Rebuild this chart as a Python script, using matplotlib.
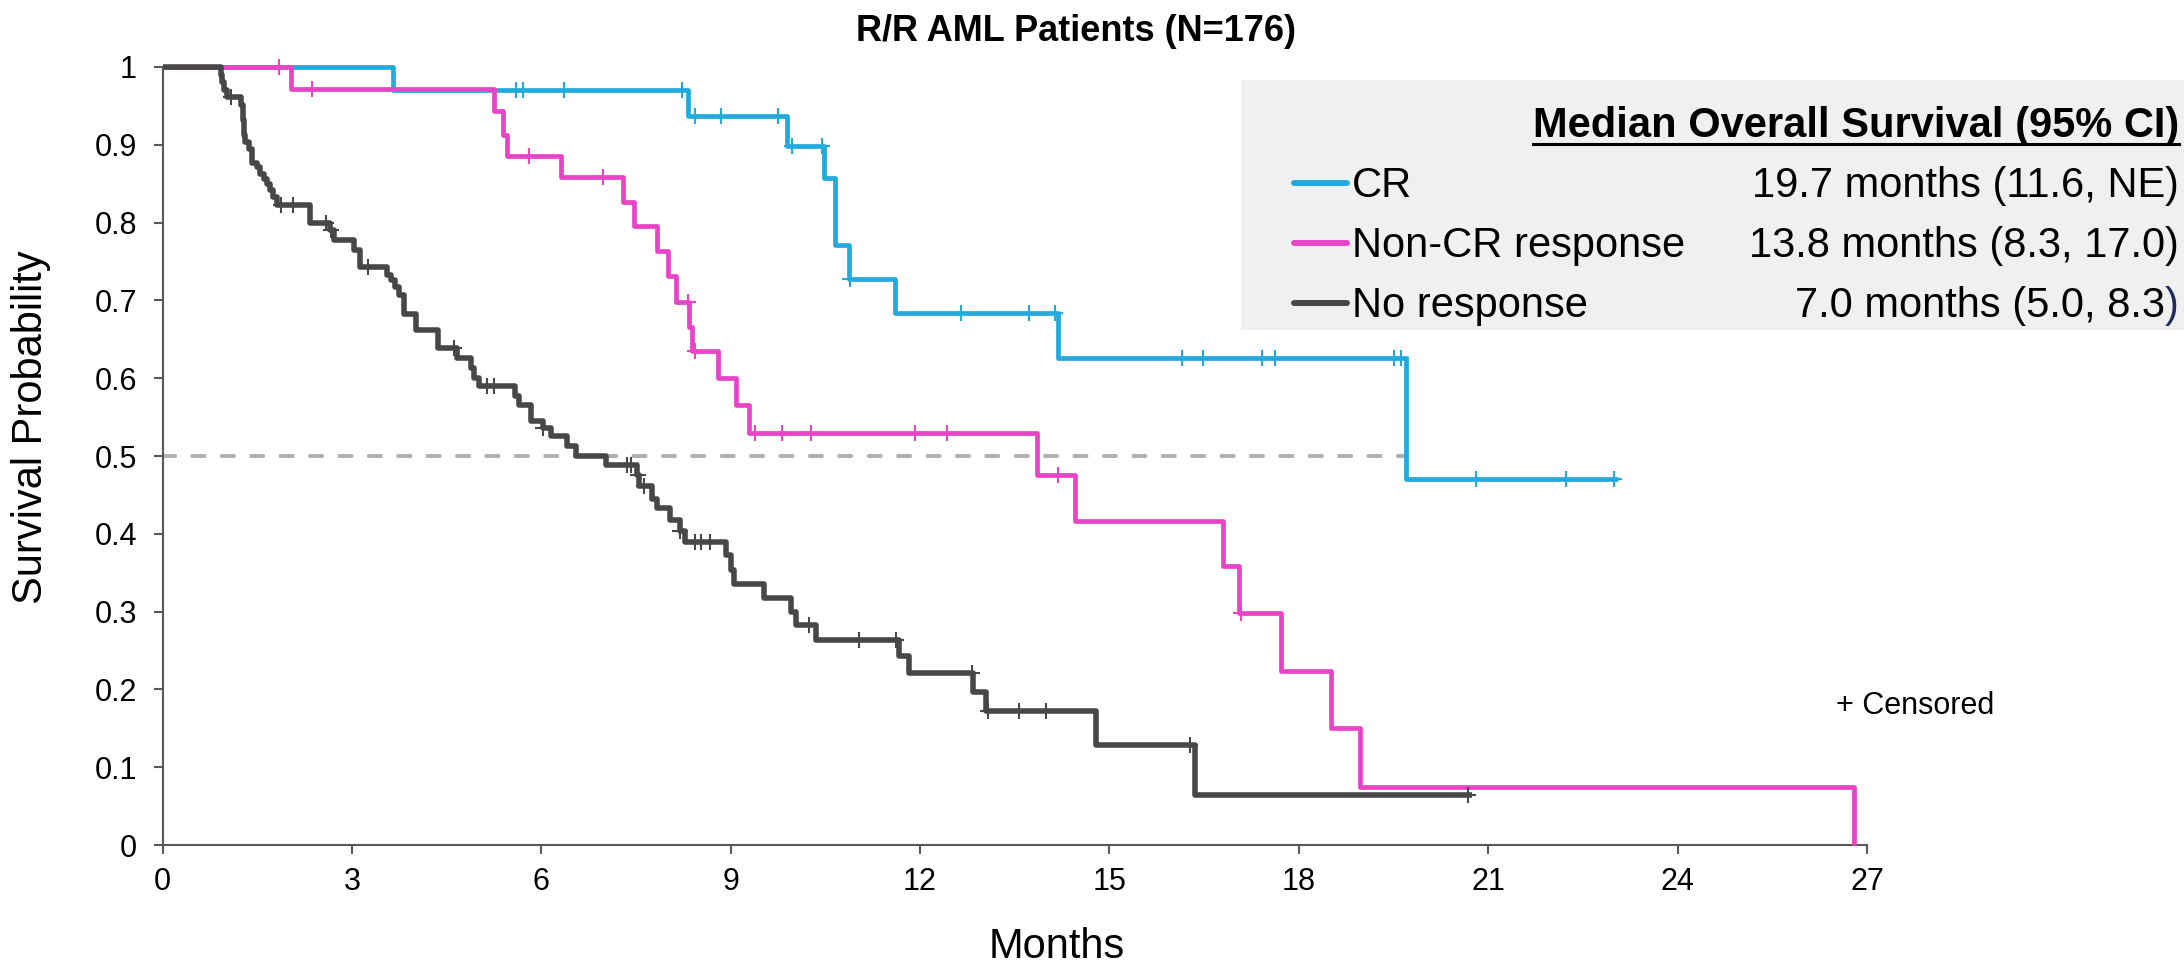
import numpy as np
import matplotlib
matplotlib.use("Agg")
from matplotlib import pyplot as plt
from matplotlib.lines import Line2D
from matplotlib.patches import Rectangle

# Kaplan-Meier steps: month of each drop and survival after it
cr_times = [0, 3.65, 8.32, 9.90, 10.48, 10.66, 10.87, 11.61, 14.19, 19.69]
cr_surv = [1.0, 0.971, 0.937, 0.898, 0.857, 0.771, 0.728, 0.684, 0.626, 0.470]
cr_end = 23.05
cr_censored = [5.60, 5.71, 6.36, 8.23, 8.43, 8.84, 9.75, 9.97, 10.45, 10.89, 12.65,
               13.73, 14.13, 16.15, 16.48, 17.42, 17.62, 19.50, 19.62, 20.81, 22.23, 23.0]

noncr_times = [0, 2.03, 5.25, 5.39, 5.45, 6.32, 7.30, 7.47, 7.83, 8.00, 8.14, 8.34,
               8.38, 8.80, 9.09, 9.29, 13.86, 14.45, 16.80, 17.06, 17.72, 18.51, 18.97, 26.79]
noncr_surv = [1.0, 0.972, 0.943, 0.913, 0.886, 0.858, 0.826, 0.795, 0.763, 0.731, 0.698, 0.666,
              0.635, 0.600, 0.565, 0.529, 0.476, 0.417, 0.358, 0.298, 0.224, 0.150, 0.075, 0.0]
noncr_end = 26.79
noncr_censored = [1.85, 2.37, 5.80, 6.97, 8.32, 8.43, 9.38, 9.81, 10.27, 11.92, 12.42, 14.19, 17.08]

nr_times = [0, 0.93, 0.95, 0.98, 1.02, 1.25, 1.27, 1.29, 1.31, 1.37, 1.42, 1.50, 1.54, 1.61,
            1.65, 1.71, 1.75, 1.82, 2.33, 2.65, 2.72, 3.04, 3.13, 3.55, 3.62, 3.68, 3.75,
            3.83, 4.02, 4.36, 4.67, 4.88, 4.94, 5.01, 5.59, 5.64, 5.83, 6.02, 6.15, 6.40,
            6.55, 7.03, 7.51, 7.55, 7.76, 7.83, 8.04, 8.20, 8.27, 8.92, 9.00, 9.05, 9.53,
            9.95, 10.04, 10.35, 11.67, 11.82, 12.84, 13.05, 14.78, 16.36]
nr_surv = [1.0, 0.990, 0.981, 0.971, 0.962, 0.951, 0.932, 0.913, 0.904, 0.894, 0.876, 0.871,
           0.862, 0.856, 0.850, 0.842, 0.833, 0.823, 0.800, 0.790, 0.778, 0.765, 0.743, 0.733,
           0.726, 0.717, 0.707, 0.683, 0.662, 0.639, 0.626, 0.613, 0.600, 0.590, 0.577, 0.565,
           0.545, 0.536, 0.526, 0.513, 0.500, 0.488, 0.476, 0.461, 0.445, 0.433, 0.418, 0.404,
           0.389, 0.373, 0.354, 0.336, 0.318, 0.300, 0.283, 0.264, 0.243, 0.221, 0.197, 0.172,
           0.129, 0.064]
nr_end = 20.74
nr_censored = [1.08, 1.87, 2.07, 2.59, 2.67, 3.25, 4.61, 5.14, 5.25, 6.02, 7.35, 7.42, 7.54,
               7.62, 8.20, 8.43, 8.53, 8.68, 10.24, 11.04, 11.62, 12.82, 13.07, 13.56, 13.99,
               16.28, 20.68]

groups = ["CR", "Non-CR response", "No response"]
medians = [19.7, 13.8, 7.0]
ci_low = [11.6, 8.3, 5.0]
ci_high = ["NE", "17.0", "8.3"]

x_ticks = [0, 3, 6, 9, 12, 15, 18, 21, 24, 27]
y_ticks = [0, 0.1, 0.2, 0.3, 0.4, 0.5, 0.6, 0.7, 0.8, 0.9, 1]

colors = ["#22aadd", "#e944c8", "#474747"]
paren_colors = ["black", "black", "#1f2b5e"]

W, H = 2184, 963
plt.rcParams["font.family"] = ["Liberation Sans", "DejaVu Sans"]


def fx(px):
    return px / W


def fy(py):
    # pixel row measured from the top
    return 1 - py / H


def step_at(times, surv, t):
    idx = np.searchsorted(times, t, side="right") - 1
    return np.asarray(surv)[idx]


fig = plt.figure(figsize=(W / 100, H / 100), dpi=100)
ax = fig.add_axes([fx(162.5), fy(845), fx(1867) - fx(162.5), fy(67) - fy(845)])
ax.patch.set_visible(False)

# median reference line, out to where the CR curve crosses 0.5
ax.plot([0, medians[0]], [0.5, 0.5], color="#b0b0b0", lw=2.9, dashes=(3, 4.3),
        dash_capstyle="round", zorder=2)

series = [
    (cr_times, cr_surv, cr_end, cr_censored, 3.4),
    (noncr_times, noncr_surv, noncr_end, noncr_censored, 3.4),
    (nr_times, nr_surv, nr_end, nr_censored, 4.0),
]
for i, (times, surv, end, cens, lw) in enumerate(series):
    xs = list(times) + [end]
    ys = list(surv) + [surv[-1]]
    ax.step(xs, ys, where="post", color=colors[i], lw=lw, clip_on=False, zorder=3 + i,
            solid_joinstyle="round", solid_capstyle="butt")
    ax.plot(cens, step_at(times, surv, cens), ls="none", marker="+", ms=11.5, mew=1.5,
            color=colors[i], clip_on=False, zorder=3 + i)

ax.set_xlim(0, 27)
ax.set_ylim(0, 1)
ax.set_xticks(x_ticks)
ax.set_yticks(y_ticks)
ax.set_yticklabels([f"{v:g}" for v in y_ticks])
for side in ["top", "right"]:
    ax.spines[side].set_visible(False)
for side in ["left", "bottom"]:
    ax.spines[side].set_color("#595959")
    ax.spines[side].set_linewidth(1.5)
ax.tick_params(axis="both", direction="out", length=6.5, width=1.5, color="#595959",
               labelsize=22, labelcolor="black")
ax.tick_params(axis="x", pad=9)
ax.tick_params(axis="y", pad=12)

fig.text(fx(1076), fy(41), "R/R AML Patients (N=176)", ha="center", va="baseline",
         fontsize=26, fontweight="bold")
fig.text(fx(1057), fy(958), "Months", ha="center", va="baseline", fontsize=30)
fig.text(fx(31), fy(427), "Survival Probability", ha="center", va="center",
         rotation=90, fontsize=30)
fig.text(fx(1836), fy(714), "+ Censored", ha="left", va="baseline", fontsize=22)

# legend panel with medians
fig.add_artist(Rectangle((fx(1241), fy(330)), fx(W) - fx(1241), fy(80) - fy(330),
                         transform=fig.transFigure, facecolor="#f0f0f0",
                         edgecolor="none", zorder=1))
right = 2179
header = fig.text(fx(right), fy(137), "Median Overall Survival (95% CI)", ha="right",
                  va="baseline", fontsize=30, fontweight="bold", zorder=2)

fig.canvas.draw()
renderer = fig.canvas.get_renderer()
hb = header.get_window_extent(renderer)
fig.add_artist(Line2D([hb.x0 / W, hb.x1 / W], [fy(144), fy(144)],
                      transform=fig.transFigure, color="black", lw=2.2, zorder=2))

baselines = [197, 257, 317]
for i, name in enumerate(groups):
    yb = baselines[i]
    fig.add_artist(Line2D([fx(1294), fx(1347)], [fy(yb - 14), fy(yb - 14)],
                          transform=fig.transFigure, color=colors[i], lw=4.3,
                          solid_capstyle="round", zorder=2))
    fig.text(fx(1352), fy(yb), name, ha="left", va="baseline", fontsize=30, zorder=2)
    paren = fig.text(fx(right), fy(yb), ")", ha="right", va="baseline", fontsize=30,
                     color=paren_colors[i], zorder=2)
    pb = paren.get_window_extent(renderer)
    fig.text(pb.x0 / W, fy(yb), f"{medians[i]:.1f} months ({ci_low[i]:.1f}, {ci_high[i]}",
             ha="right", va="baseline", fontsize=30, zorder=2)

fig.savefig("out.png", dpi=100)
